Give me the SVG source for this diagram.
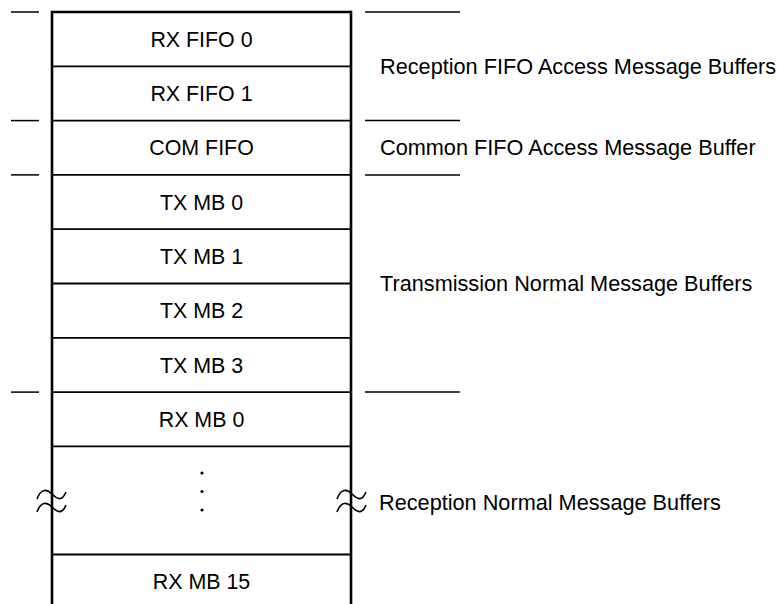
<svg xmlns="http://www.w3.org/2000/svg" width="777" height="604" viewBox="0 0 777 604">
<style>
.bg{fill:#fff}
.frame{stroke:#000;stroke-width:2.6;fill:none}
.div{stroke:#000;stroke-width:1.8;fill:none}
.tick{stroke:#000;stroke-width:1.5;fill:none}
.brk{stroke:#000;stroke-width:1.6;fill:none}
text{font-family:"Liberation Sans",Arial,sans-serif;font-size:21.4px;fill:#000}
.c{text-anchor:middle}
.r{font-size:21.7px}
</style>
<rect class="bg" width="777" height="604"/>
<g id="frame">
<line class="frame" x1="52" y1="12" x2="351" y2="12"/>
<line class="frame" x1="52" y1="10.7" x2="52" y2="604"/>
<line class="frame" x1="351" y1="10.7" x2="351" y2="604"/>
</g>
<g id="rx-fifo-0"><text class="c" x="201.5" y="46.7">RX FIFO 0</text><line class="div" x1="52" y1="66.3" x2="351" y2="66.3"/></g>
<g id="rx-fifo-1"><text class="c" x="201.5" y="101">RX FIFO 1</text><line class="div" x1="52" y1="120.6" x2="351" y2="120.6"/></g>
<g id="com-fifo"><text class="c" x="201.5" y="155.3">COM FIFO</text><line class="div" x1="52" y1="174.9" x2="351" y2="174.9"/></g>
<g id="tx-mb-0"><text class="c" x="201.5" y="209.6">TX MB 0</text><line class="div" x1="52" y1="229.2" x2="351" y2="229.2"/></g>
<g id="tx-mb-1"><text class="c" x="201.5" y="263.9">TX MB 1</text><line class="div" x1="52" y1="283.5" x2="351" y2="283.5"/></g>
<g id="tx-mb-2"><text class="c" x="201.5" y="318.2">TX MB 2</text><line class="div" x1="52" y1="337.8" x2="351" y2="337.8"/></g>
<g id="tx-mb-3"><text class="c" x="201.5" y="372.5">TX MB 3</text><line class="div" x1="52" y1="392.1" x2="351" y2="392.1"/></g>
<g id="rx-mb-0"><text class="c" x="201.5" y="426.8">RX MB 0</text><line class="div" x1="52" y1="446.4" x2="351" y2="446.4"/></g>
<g id="rx-mb-gap">
<circle cx="202" cy="473" r="1.6"/><circle cx="202" cy="491.5" r="1.6"/><circle cx="202" cy="510" r="1.6"/>
<line class="div" x1="52" y1="554.5" x2="351" y2="554.5"/>
<path class="brk" d="M37,499 C41,488 47,489 52,494 C57,499 62,502 66,492"/>
<path class="brk" d="M37,512 C41,501 47,502 52,507 C57,512 62,515 66,505"/>
<path class="brk" d="M337,499 C341,488 347,489 352,494 C357,499 362,502 366,492"/>
<path class="brk" d="M337,512 C341,501 347,502 352,507 C357,512 362,515 366,505"/>
</g>
<g id="rx-mb-15"><text class="c" x="201.5" y="589">RX MB 15</text></g>
<g id="connectors">
<line class="tick" x1="11" y1="12" x2="39" y2="12"/>
<line class="tick" x1="11" y1="120.6" x2="39" y2="120.6"/>
<line class="tick" x1="11" y1="174.9" x2="39" y2="174.9"/>
<line class="tick" x1="11" y1="392.1" x2="39" y2="392.1"/>
<line class="tick" x1="365" y1="12" x2="460" y2="12"/>
<line class="tick" x1="365" y1="120.6" x2="460" y2="120.6"/>
<line class="tick" x1="365" y1="174.9" x2="460" y2="174.9"/>
<line class="tick" x1="365" y1="392.1" x2="460" y2="392.1"/>
</g>
<g id="labels">
<text class="r" x="380" y="73.5">Reception FIFO Access Message Buffers</text>
<text class="r" x="380" y="155">Common FIFO Access Message Buffer</text>
<text class="r" x="380" y="291">Transmission Normal Message Buffers</text>
<text class="r" x="379" y="509.5">Reception Normal Message Buffers</text>
</g>
</svg>
